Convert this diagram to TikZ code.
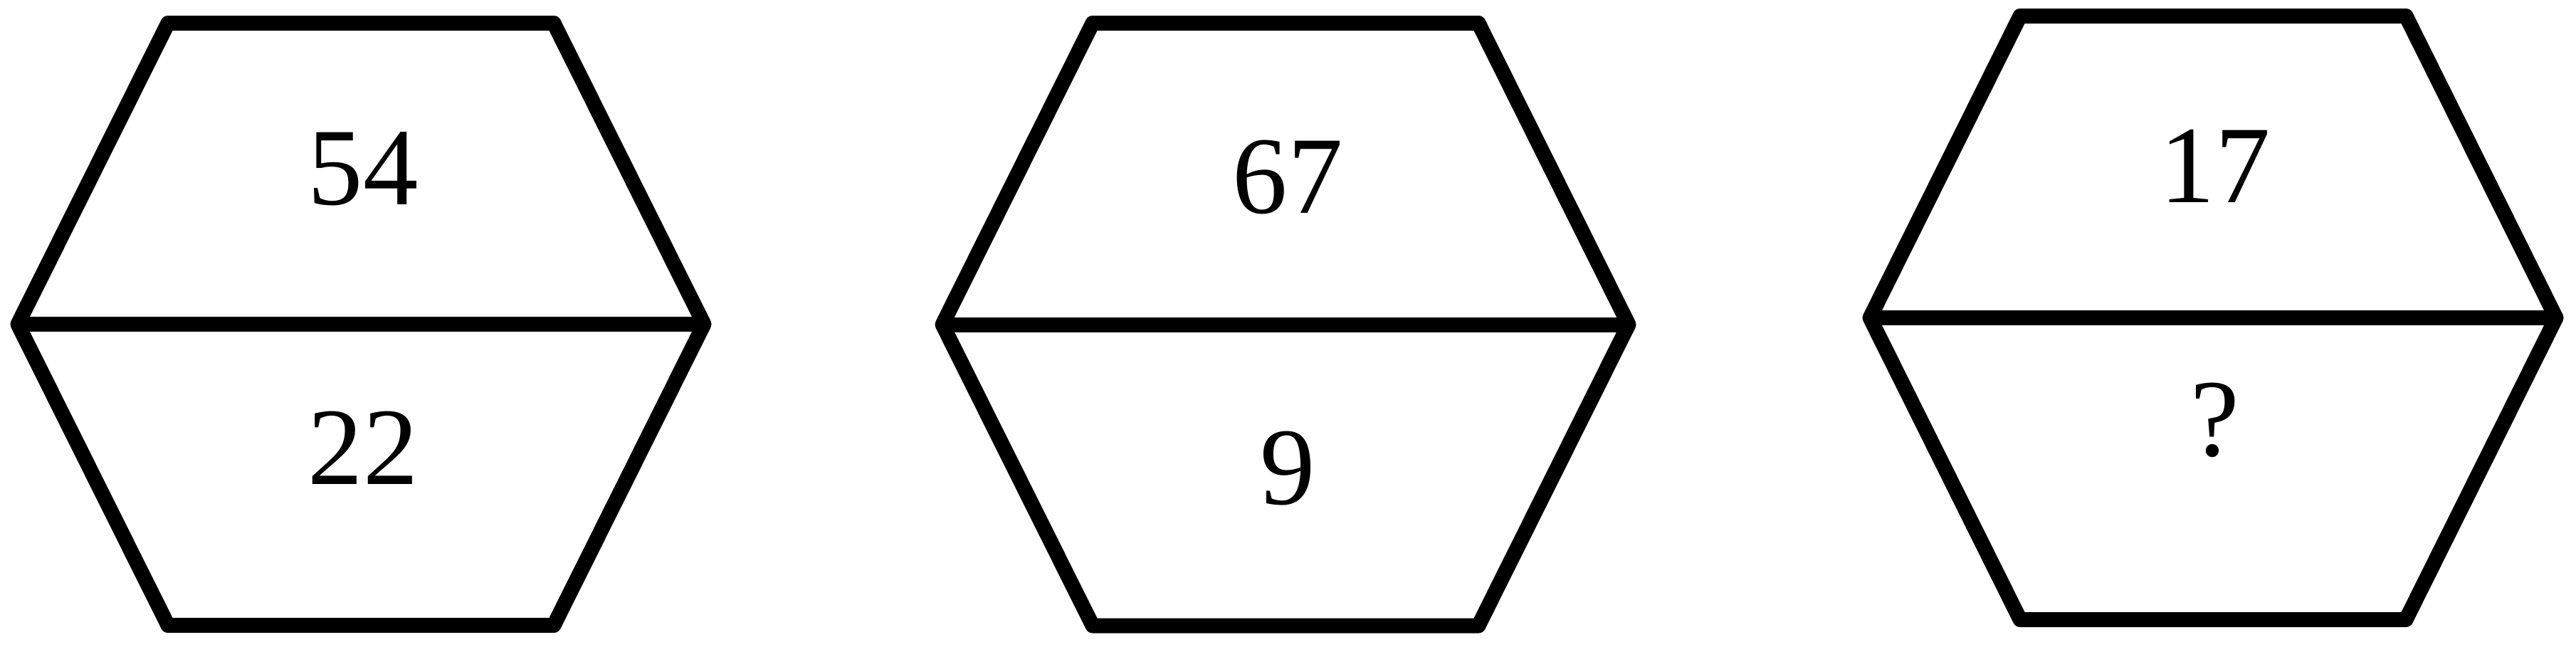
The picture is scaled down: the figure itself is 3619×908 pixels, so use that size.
\documentclass[tikz,border=0pt]{standalone}
\usepackage{fontspec}
\setmainfont{Liberation Serif}
\usetikzlibrary{positioning}

\begin{document}
\begin{tikzpicture}[x=0.01cm,y=-0.01cm,line width=0.21cm,line join=round,
	hex/.style={draw=black},
	num/.style={font=\fontsize{44}{52}\selectfont,inner sep=0pt}]

	\useasboundingbox (0,0) rectangle (3619,908);

	%first hexagon
	\begin{scope}[shift={(25,455.5)}]
		\coordinate (a-l) at (0,0);
		\coordinate (a-tl) at (211,-423);
		\coordinate (a-tr) at (753,-423);
		\coordinate (a-r) at (964,0);
		\coordinate (a-br) at (753,423);
		\coordinate (a-bl) at (211,423);
		\draw[hex] (a-l) -- (a-tl) -- (a-tr) -- (a-r) -- (a-br) -- (a-bl) -- cycle;
		\draw[hex] (a-l) -- (a-r);
		\node[num] (a-up) at (485,-218.5) {54};
		\node[num] (a-down) at (485,173.5) {22};
	\end{scope}

	%second hexagon
	\begin{scope}[shift={(1324,456)}]
		\coordinate (b-l) at (0,0);
		\coordinate (b-tl) at (211,-423.5);
		\coordinate (b-tr) at (753,-423.5);
		\coordinate (b-r) at (964,0);
		\coordinate (b-br) at (753,423);
		\coordinate (b-bl) at (211,423);
		\draw[hex] (b-l) -- (b-tl) -- (b-tr) -- (b-r) -- (b-br) -- (b-bl) -- cycle;
		\draw[hex] (b-l) -- (b-r);
		\node[num] (b-up) at (485,-207) {67};
		\node[num] (b-down) at (485,202) {9};
	\end{scope}

	%third hexagon, the one with the missing number
	\begin{scope}[shift={(2627,446.5)}]
		\coordinate (c-l) at (0,0);
		\coordinate (c-tl) at (211,-424);
		\coordinate (c-tr) at (753,-424);
		\coordinate (c-r) at (964,0);
		\coordinate (c-br) at (753,424);
		\coordinate (c-bl) at (211,424);
		\draw[hex] (c-l) -- (c-tl) -- (c-tr) -- (c-r) -- (c-br) -- (c-bl) -- cycle;
		\draw[hex] (c-l) -- (c-r);
		\node[num] (c-up) at (485,-213.5) {17};
		\node[num] (c-down) at (485,143.5) {?};
	\end{scope}
\end{tikzpicture}
\end{document}
